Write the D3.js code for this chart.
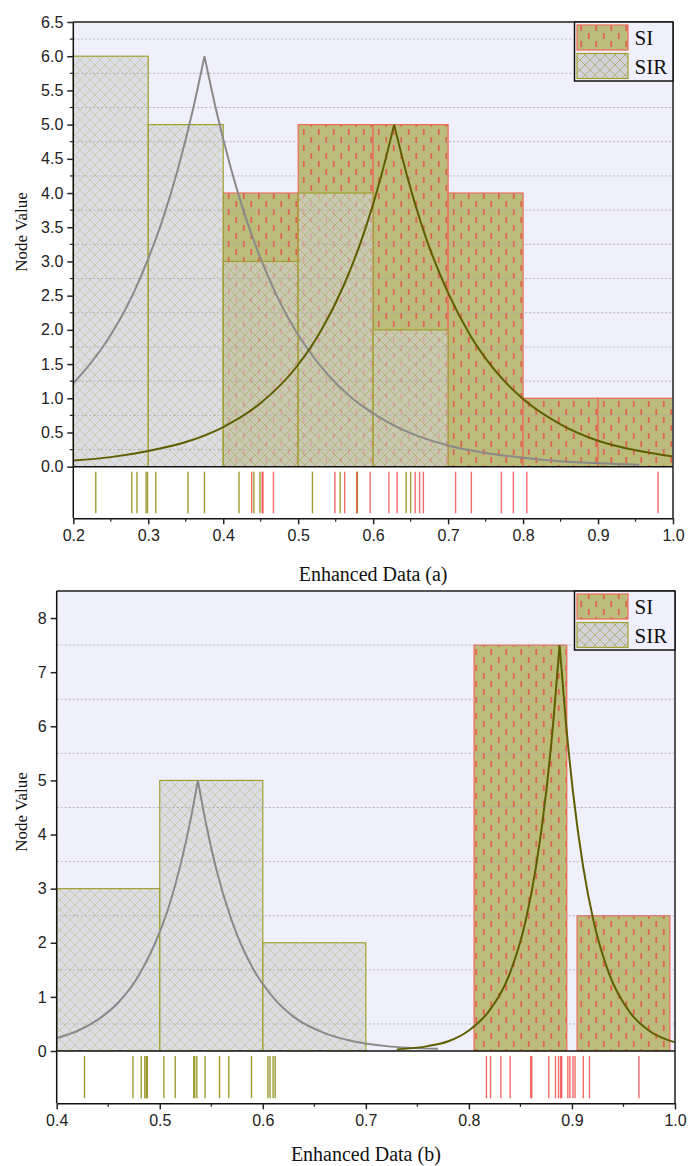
<!DOCTYPE html>
<html>
<head>
<meta charset="utf-8">
<script src="https://cdn.jsdelivr.net/npm/d3@7"></script>
<style>
  body { margin: 0; background: #fff; }
  .title { font-family: "Liberation Serif", "Times New Roman", serif; fill: #111; }
  .legend text { font-family: "Liberation Serif", "Times New Roman", serif; font-size: 21px; fill: #111; }
</style>
</head>
<body>
<div id="chart"></div>
<script>
// Panel (a) histograms: bin edges and counts
const siA_x0 = [0.4, 0.5, 0.6, 0.7, 0.8, 0.9];
const siA_x1 = [0.5, 0.6, 0.7, 0.8, 0.9, 1.0];
const siA_counts = [4, 5, 5, 4, 1, 1];
const sirA_x0 = [0.2, 0.3, 0.4, 0.5, 0.6];
const sirA_x1 = [0.3, 0.4, 0.5, 0.6, 0.7];
const sirA_counts = [6, 5, 3, 4, 2];

// Panel (a) fitted curves (peak point included)
const siA_curveX = [0.20, 0.25, 0.30, 0.35, 0.40, 0.45, 0.50, 0.53, 0.56, 0.59, 0.61, 0.628, 0.645, 0.67, 0.70, 0.73, 0.76, 0.80, 0.85, 0.90, 0.95, 1.00];
const siA_curveY = [0.09, 0.14, 0.23, 0.36, 0.58, 0.93, 1.49, 1.98, 2.63, 3.49, 4.22, 5.0, 4.26, 3.36, 2.54, 1.91, 1.44, 0.99, 0.62, 0.38, 0.24, 0.15];
const sirA_curveX = [0.20, 0.22, 0.24, 0.26, 0.28, 0.30, 0.32, 0.34, 0.36, 0.375, 0.39, 0.41, 0.43, 0.45, 0.48, 0.51, 0.54, 0.57, 0.60, 0.65, 0.70, 0.75, 0.80, 0.85, 0.90, 0.955];
const sirA_curveY = [1.22, 1.47, 1.76, 2.11, 2.53, 3.04, 3.64, 4.37, 5.24, 6.0, 5.24, 4.37, 3.64, 3.04, 2.31, 1.76, 1.34, 1.02, 0.78, 0.49, 0.31, 0.20, 0.13, 0.08, 0.05, 0.03];

// Panel (a) rug values
const siA_rug = [0.438, 0.452, 0.453, 0.467, 0.549, 0.562, 0.578, 0.596, 0.621, 0.632, 0.656, 0.662, 0.667, 0.710, 0.731, 0.771, 0.787, 0.805, 0.980];
const sirA_rug = [0.230, 0.278, 0.285, 0.297, 0.299, 0.310, 0.353, 0.375, 0.421, 0.441, 0.449, 0.519, 0.556, 0.579, 0.644, 0.650];

// Panel (b) histograms
const siB_x0 = [0.805, 0.905];
const siB_x1 = [0.895, 0.995];
const siB_counts = [7.5, 2.5];
const sirB_x0 = [0.4, 0.5, 0.6];
const sirB_x1 = [0.5, 0.6, 0.7];
const sirB_counts = [3, 5, 2];

// Panel (b) fitted curves
const siB_curveX = [0.73, 0.76, 0.78, 0.80, 0.82, 0.84, 0.855, 0.865, 0.875, 0.882, 0.888, 0.894, 0.901, 0.911, 0.921, 0.936, 0.956, 0.976, 1.00];
const siB_curveY = [0.03, 0.09, 0.18, 0.38, 0.75, 1.45, 2.40, 3.39, 4.79, 6.10, 7.5, 6.10, 4.79, 3.39, 2.40, 1.43, 0.72, 0.36, 0.16];
const sirB_curveX = [0.40, 0.42, 0.44, 0.46, 0.48, 0.50, 0.51, 0.52, 0.53, 0.537, 0.545, 0.555, 0.57, 0.59, 0.61, 0.63, 0.66, 0.69, 0.72, 0.77];
const sirB_curveY = [0.24, 0.37, 0.58, 0.90, 1.41, 2.20, 2.74, 3.43, 4.28, 5.0, 4.19, 3.35, 2.40, 1.54, 0.99, 0.63, 0.33, 0.17, 0.09, 0.04];

// Panel (b) rug values
const siB_rug = [0.817, 0.821, 0.831, 0.840, 0.860, 0.861, 0.8775, 0.884, 0.887, 0.889, 0.890, 0.896, 0.898, 0.901, 0.903, 0.911, 0.917, 0.965];
const sirB_rug = [0.427, 0.474, 0.482, 0.4855, 0.487, 0.488, 0.504, 0.515, 0.533, 0.534, 0.536, 0.544, 0.558, 0.567, 0.589, 0.605, 0.607, 0.610, 0.612];

const width = 689;
const height = 1166;
const sans = '"Liberation Sans", Arial, sans-serif';

const svg = d3.select("#chart")
  .append("svg")
  .attr("width", width)
  .attr("height", height);

// Fill patterns
const defs = svg.append("defs");
let siPat = defs.append("pattern")
  .attr("id", "siPat")
  .attr("patternUnits", "userSpaceOnUse")
  .attr("width", 15)
  .attr("height", 16);
siPat.append("rect").attr("width", 15).attr("height", 16).attr("fill", "#bcbc7a");
siPat.append("line").attr("x1", 3.75).attr("x2", 3.75).attr("y1", 1).attr("y2", 7)
  .attr("stroke", "#dd6450").attr("stroke-width", 1.8);
siPat.append("line").attr("x1", 11.25).attr("x2", 11.25).attr("y1", 9).attr("y2", 15)
  .attr("stroke", "#dd6450").attr("stroke-width", 1.8);

let sirPat = defs.append("pattern")
  .attr("id", "sirPat")
  .attr("patternUnits", "userSpaceOnUse")
  .attr("width", 10)
  .attr("height", 10);
sirPat.append("rect").attr("width", 10).attr("height", 10).attr("fill", "#d2d2d8");
sirPat.append("path").attr("d", "M0,0L10,10M10,0L0,10")
  .attr("stroke", "#b0b070").attr("stroke-width", 0.9);

function zip(xs, ys) { return xs.map((x, i) => [x, ys[i]]); }

function drawPanel(p) {
  const x = d3.scaleLinear().domain(p.xDomain).range([p.left, p.right]);
  const y = d3.scaleLinear().domain(p.yDomain).range([p.bottom, p.top]);
  const g = svg.append("g");

  // plot background
  g.append("rect")
    .attr("x", p.left).attr("y", p.top)
    .attr("width", p.right - p.left).attr("height", p.bottom - p.top)
    .attr("fill", "#f0f0fd");

  // SI bars (under)
  g.selectAll("rect.si")
    .data(p.si.x0.map((d, i) => ({ x0: d, x1: p.si.x1[i], v: p.si.counts[i] })))
    .enter()
    .append("rect")
    .attr("class", "si")
    .attr("x", d => x(d.x0))
    .attr("y", d => y(d.v))
    .attr("width", d => x(d.x1) - x(d.x0))
    .attr("height", d => y(0) - y(d.v))
    .attr("fill", "url(#siPat)")
    .attr("stroke", "#ee6a58")
    .attr("stroke-width", 1.2);

  // SIR bars (semi-transparent, on top)
  g.selectAll("rect.sir")
    .data(p.sir.x0.map((d, i) => ({ x0: d, x1: p.sir.x1[i], v: p.sir.counts[i] })))
    .enter()
    .append("rect")
    .attr("class", "sir")
    .attr("x", d => x(d.x0))
    .attr("y", d => y(d.v))
    .attr("width", d => x(d.x1) - x(d.x0))
    .attr("height", d => y(0) - y(d.v))
    .attr("fill", "url(#sirPat)")
    .attr("fill-opacity", 0.62)
    .attr("stroke", "#a0a030")
    .attr("stroke-width", 1.2);

  // dashed grid at minor positions
  g.selectAll("line.grid")
    .data(p.gridValues)
    .enter()
    .append("line")
    .attr("x1", p.left).attr("x2", p.right)
    .attr("y1", d => y(d)).attr("y2", d => y(d))
    .attr("stroke", "#a8a8a8")
    .attr("stroke-opacity", 0.8)
    .attr("stroke-dasharray", "2,2");

  // fitted curves: smooth on each side of the cusp
  const line = d3.line().x(d => x(d[0])).y(d => y(d[1])).curve(d3.curveMonotoneX);
  function drawCurve(xs, ys, color) {
    const pts = zip(xs, ys);
    const k = d3.maxIndex(ys);
    g.append("path")
      .attr("d", line(pts.slice(0, k + 1)) + line(pts.slice(k)).replace(/^M/, "L"))
      .attr("fill", "none")
      .attr("stroke", color)
      .attr("stroke-width", 2)
      .attr("stroke-linejoin", "miter");
  }
  drawCurve(p.sir.curveX, p.sir.curveY, "#8a8a8a");
  drawCurve(p.si.curveX, p.si.curveY, "#5e5e00");

  // rug area
  g.append("rect")
    .attr("x", p.left).attr("y", p.bottom)
    .attr("width", p.right - p.left).attr("height", p.rugBottom - p.bottom)
    .attr("fill", "#fff");
  g.selectAll("line.rugSir")
    .data(p.sir.rug)
    .enter()
    .append("line")
    .attr("x1", d => x(d)).attr("x2", d => x(d))
    .attr("y1", p.bottom + 5).attr("y2", p.rugBottom - 5)
    .attr("stroke", "#8c8c10")
    .attr("stroke-opacity", 0.85)
    .attr("stroke-width", 1.4);
  g.selectAll("line.rugSi")
    .data(p.si.rug)
    .enter()
    .append("line")
    .attr("x1", d => x(d)).attr("x2", d => x(d))
    .attr("y1", p.bottom + 5).attr("y2", p.rugBottom - 5)
    .attr("stroke", "#f03a3a")
    .attr("stroke-opacity", 0.75)
    .attr("stroke-width", 1.4);

  // frame
  g.append("line")
    .attr("x1", p.left).attr("x2", p.right)
    .attr("y1", p.top).attr("y2", p.top)
    .attr("stroke", "#555").attr("stroke-width", 2);
  g.append("line")
    .attr("x1", p.right).attr("x2", p.right)
    .attr("y1", p.top).attr("y2", p.rugBottom)
    .attr("stroke", "#555").attr("stroke-width", 2);
  g.append("line")
    .attr("x1", p.left).attr("x2", p.right)
    .attr("y1", p.bottom).attr("y2", p.bottom)
    .attr("stroke", "#111").attr("stroke-width", 1.5);
  g.append("line")
    .attr("x1", p.left).attr("x2", p.left)
    .attr("y1", p.top).attr("y2", p.rugBottom)
    .attr("stroke", "#111").attr("stroke-width", 1.5);

  // y axis
  const yAxis = g.append("g")
    .attr("transform", `translate(${p.left},0)`)
    .call(d3.axisLeft(y).tickValues(p.yTicks).tickFormat(d3.format(p.yFormat)).tickSize(6).tickSizeOuter(0))
    .attr("font-family", sans)
    .attr("font-size", 16);
  yAxis.select(".domain").remove();
  yAxis.selectAll(".tick line").attr("stroke", "#222").attr("stroke-width", 1.5);
  yAxis.selectAll(".tick text").attr("x", -10).attr("fill", "#222");
  if (p.yMinor.length) {
    g.selectAll("line.yminor")
      .data(p.yMinor)
      .enter()
      .append("line")
      .attr("x1", p.left - 3.5).attr("x2", p.left)
      .attr("y1", d => y(d)).attr("y2", d => y(d))
      .attr("stroke", "#222").attr("stroke-width", 1.2);
  }

  // x axis under the rug
  const xAxis = g.append("g")
    .attr("transform", `translate(0,${p.rugBottom})`)
    .call(d3.axisBottom(x).tickValues(p.xTicks).tickFormat(d3.format(".1f")).tickSize(6).tickSizeOuter(0))
    .attr("font-family", sans)
    .attr("font-size", 16);
  xAxis.select(".domain").attr("stroke", "#111").attr("stroke-width", 1.5);
  xAxis.selectAll(".tick line").attr("stroke", "#222").attr("stroke-width", 1.5);
  xAxis.selectAll(".tick text").attr("y", 11).attr("fill", "#222");
  g.selectAll("line.xminor")
    .data(p.xMinor)
    .enter()
    .append("line")
    .attr("x1", d => x(d)).attr("x2", d => x(d))
    .attr("y1", p.rugBottom).attr("y2", p.rugBottom + 3.5)
    .attr("stroke", "#222").attr("stroke-width", 1.2);

  // axis titles
  g.append("text")
    .attr("class", "title")
    .attr("font-size", 17)
    .attr("text-anchor", "middle")
    .attr("transform", `translate(27,${p.yTitleY}) rotate(-90)`)
    .text("Node Value");
  g.append("text")
    .attr("class", "title")
    .attr("font-size", 20)
    .attr("text-anchor", "middle")
    .attr("x", (p.left + p.right) / 2)
    .attr("y", p.xTitleY)
    .text(p.xTitle);

  // legend
  const lg = g.append("g").attr("class", "legend");
  const lx = 574.5, lw = p.right - lx;
  lg.append("rect")
    .attr("x", lx).attr("y", p.top)
    .attr("width", lw).attr("height", 59)
    .attr("fill", "#f0f0fd")
    .attr("stroke", "#111").attr("stroke-width", 1.5);
  const items = [
    { name: "SI", fill: "url(#siPat)", stroke: "#ee6a58" },
    { name: "SIR", fill: "url(#sirPat)", stroke: "#a0a030" }
  ];
  items.forEach((it, i) => {
    lg.append("rect")
      .attr("x", lx + 2.5).attr("y", p.top + 3 + i * 28.5)
      .attr("width", 51).attr("height", 25)
      .attr("fill", it.fill)
      .attr("stroke", it.stroke).attr("stroke-width", 1.2);
    lg.append("text")
      .attr("x", lx + 60).attr("y", p.top + 23 + i * 28.5)
      .text(it.name);
  });
}

drawPanel({
  left: 73.3, right: 673, top: 22, bottom: 466.7, rugBottom: 518.3,
  xDomain: [0.2, 1.0], yDomain: [0, 6.5],
  xTicks: d3.range(2, 11).map(d => d / 10),
  xMinor: d3.range(2, 10).map(d => d / 10 + 0.05),
  yTicks: d3.range(0, 14).map(d => d / 2),
  yMinor: d3.range(0, 13).map(d => d / 2 + 0.25),
  gridValues: d3.range(0, 13).map(d => d / 2 + 0.25),
  yFormat: ".1f",
  yTitleY: 232,
  xTitle: "Enhanced Data (a)", xTitleY: 581,
  si: { x0: siA_x0, x1: siA_x1, counts: siA_counts, curveX: siA_curveX, curveY: siA_curveY, rug: siA_rug },
  sir: { x0: sirA_x0, x1: sirA_x1, counts: sirA_counts, curveX: sirA_curveX, curveY: sirA_curveY, rug: sirA_rug }
});

drawPanel({
  left: 56.7, right: 675, top: 591, bottom: 1051, rugBottom: 1103.3,
  xDomain: [0.4, 1.0], yDomain: [0, 8.5],
  xTicks: d3.range(4, 11).map(d => d / 10),
  xMinor: d3.range(4, 10).map(d => d / 10 + 0.05),
  yTicks: d3.range(0, 9),
  yMinor: [],
  gridValues: d3.range(0, 8).map(d => d + 0.5),
  yFormat: "d",
  yTitleY: 812,
  xTitle: "Enhanced Data (b)", xTitleY: 1161,
  si: { x0: siB_x0, x1: siB_x1, counts: siB_counts, curveX: siB_curveX, curveY: siB_curveY, rug: siB_rug },
  sir: { x0: sirB_x0, x1: sirB_x1, counts: sirB_counts, curveX: sirB_curveX, curveY: sirB_curveY, rug: sirB_rug }
});
</script>
</body>
</html>
